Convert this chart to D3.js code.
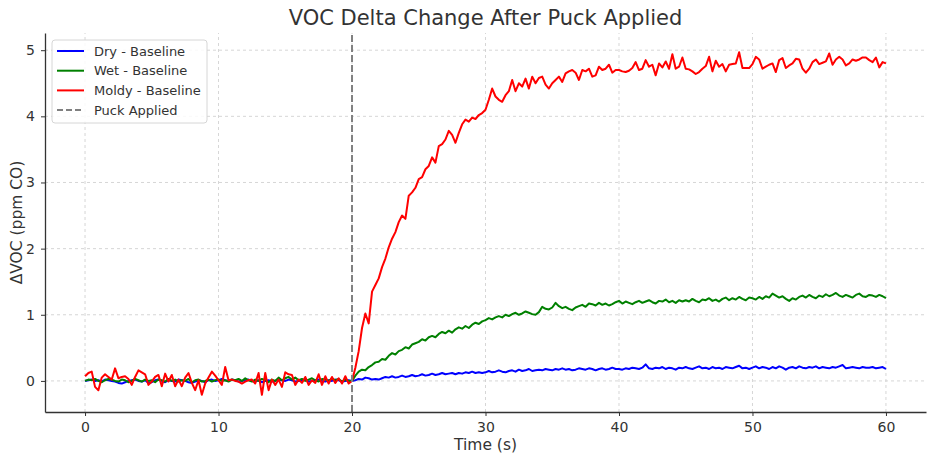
<!DOCTYPE html>
<html>
<head>
<meta charset="utf-8">
<script src="https://cdn.jsdelivr.net/npm/d3@7"></script>
<style>
  body { margin: 0; background: #fff; }
  text { font-family: "DejaVu Sans", sans-serif; }
</style>
</head>
<body>
<div id="chart"></div>
<script>
// sampled every 0.25 s, one row = 5 s
const time = d3.range(0, 241).map(i => i * 0.25);

const dry = [
  0.00, 0.01, 0.02, 0.00, 0.01, -0.01, 0.02, 0.01, 0.00, -0.01, -0.03, -0.04, -0.02, 0.00, 0.01, 0.02, 0.00, -0.01, 0.01, -0.03,
  -0.02, 0.01, 0.02, 0.00, -0.02, 0.01, 0.00, -0.01, 0.02, 0.01, 0.00, -0.02, -0.03, -0.01, 0.01, 0.00, -0.02, 0.01, 0.02, 0.00,
  0.01, 0.03, 0.01, 0.00, 0.02, 0.01, -0.01, 0.00, 0.01, 0.02, 0.00, -0.01, 0.01, -0.02, 0.00, 0.01, -0.01, 0.00, 0.02, 0.01,
  0.00, 0.02, 0.01, -0.01, 0.00, 0.01, 0.02, -0.01, 0.00, 0.01, 0.02, 0.00, -0.01, 0.01, 0.00, 0.02, 0.01, -0.01, 0.00, 0.01,
  0.00, 0.01, 0.03, 0.02, 0.05, 0.04, 0.02, 0.03, 0.02, 0.04, 0.06, 0.05, 0.07, 0.05, 0.06, 0.08, 0.06, 0.07, 0.09, 0.07,
  0.08, 0.10, 0.08, 0.09, 0.11, 0.09, 0.10, 0.12, 0.10, 0.11, 0.12, 0.10, 0.12, 0.11, 0.13, 0.12, 0.14, 0.12, 0.13, 0.12,
  0.13, 0.15, 0.13, 0.14, 0.16, 0.14, 0.13, 0.15, 0.16, 0.14, 0.17, 0.15, 0.16, 0.18, 0.15, 0.16, 0.17, 0.16, 0.18, 0.17,
  0.16, 0.18, 0.17, 0.19, 0.17, 0.18, 0.16, 0.17, 0.19, 0.18, 0.17, 0.19, 0.18, 0.16, 0.18, 0.19, 0.17, 0.18, 0.20, 0.18,
  0.18, 0.17, 0.19, 0.18, 0.20, 0.19, 0.18, 0.20, 0.25, 0.19, 0.18, 0.20, 0.19, 0.21, 0.18, 0.20, 0.19, 0.17, 0.20, 0.19,
  0.21, 0.19, 0.18, 0.20, 0.22, 0.19, 0.20, 0.18, 0.21, 0.19, 0.20, 0.18, 0.21, 0.20, 0.19, 0.21, 0.23, 0.19, 0.20, 0.18,
  0.20, 0.22, 0.19, 0.21, 0.20, 0.18, 0.21, 0.19, 0.22, 0.20, 0.17, 0.20, 0.21, 0.19, 0.22, 0.20, 0.19, 0.21, 0.20, 0.22,
  0.19, 0.21, 0.20, 0.19, 0.21, 0.20, 0.22, 0.24, 0.19, 0.20, 0.21, 0.20, 0.19, 0.21, 0.20, 0.20, 0.21, 0.19, 0.20, 0.21,
  0.18
];

const wet = [
  0.00, 0.02, 0.01, 0.03, 0.00, -0.02, 0.01, 0.03, 0.02, 0.00, -0.01, 0.02, 0.01, -0.02, 0.00, 0.03, 0.01, -0.01, 0.02, 0.00,
  0.01, -0.02, 0.02, 0.01, -0.01, 0.03, 0.00, 0.02, -0.01, 0.01, 0.00, 0.03, -0.02, 0.01, 0.02, -0.01, 0.00, 0.02, -0.01, 0.01,
  0.02, 0.00, 0.01, -0.01, 0.02, 0.01, 0.03, 0.00, 0.04, 0.01, -0.01, 0.02, 0.00, 0.03, 0.01, -0.02, 0.02, 0.00, 0.05, 0.01,
  0.04, 0.06, 0.02, 0.05, 0.01, 0.03, 0.00, 0.02, 0.04, 0.01, -0.01, 0.03, 0.02, 0.00, 0.04, 0.01, 0.03, -0.01, 0.02, 0.00,
  0.00, 0.08, 0.14, 0.17, 0.16, 0.21, 0.24, 0.28, 0.29, 0.33, 0.32, 0.38, 0.42, 0.40, 0.45, 0.47, 0.51, 0.49, 0.55, 0.57,
  0.59, 0.63, 0.61, 0.66, 0.68, 0.66, 0.71, 0.74, 0.72, 0.76, 0.73, 0.78, 0.81, 0.79, 0.83, 0.80, 0.85, 0.88, 0.86, 0.90,
  0.92, 0.95, 0.93, 0.96, 0.98, 0.96, 1.00, 0.98, 1.01, 1.03, 1.00, 1.02, 1.05, 1.03, 1.01, 1.00, 1.04, 1.12, 1.09, 1.08,
  1.11, 1.18, 1.13, 1.10, 1.12, 1.09, 1.07, 1.11, 1.13, 1.15, 1.12, 1.17, 1.16, 1.14, 1.18, 1.15, 1.17, 1.14, 1.16, 1.19,
  1.21, 1.17, 1.20, 1.18, 1.16, 1.19, 1.21, 1.18, 1.20, 1.22, 1.19, 1.17, 1.21, 1.20, 1.23, 1.19, 1.21, 1.18, 1.22, 1.20,
  1.22, 1.20, 1.24, 1.21, 1.19, 1.23, 1.22, 1.25, 1.21, 1.23, 1.20, 1.24, 1.26, 1.22, 1.25, 1.23, 1.27, 1.24, 1.22, 1.26,
  1.25, 1.23, 1.27, 1.24, 1.28, 1.26, 1.32, 1.29, 1.26, 1.28, 1.24, 1.21, 1.25, 1.23, 1.27, 1.29, 1.26, 1.30, 1.27, 1.25,
  1.29, 1.27, 1.31, 1.28, 1.30, 1.33, 1.29, 1.27, 1.30, 1.28, 1.26, 1.30, 1.32, 1.28, 1.27, 1.30, 1.29, 1.27, 1.30, 1.28,
  1.25
];

const moldy = [
  0.07, 0.12, 0.14, -0.09, -0.14, 0.05, 0.10, 0.06, 0.02, 0.19, 0.04, 0.06, 0.07, 0.03, -0.06, 0.06, 0.16, 0.13, 0.10, -0.06,
  -0.01, 0.06, 0.09, -0.08, 0.11, -0.01, 0.09, -0.08, 0.02, -0.08, 0.05, 0.12, -0.03, -0.14, 0.01, -0.21, -0.04, 0.05, 0.14, 0.08,
  0.01, -0.06, 0.21, 0.01, 0.02, 0.00, -0.01, -0.04, -0.01, 0.01, 0.02, -0.04, 0.12, -0.21, 0.12, -0.14, 0.02, -0.06, 0.02, -0.09,
  0.13, 0.10, 0.09, -0.06, 0.02, -0.03, 0.06, -0.06, 0.01, -0.03, 0.10, -0.06, 0.07, -0.04, 0.06, -0.03, 0.04, -0.04, 0.07, -0.04,
  0.00, 0.20, 0.45, 0.80, 1.02, 0.87, 1.35, 1.45, 1.55, 1.72, 1.85, 2.02, 2.15, 2.25, 2.40, 2.50, 2.45, 2.80, 2.85, 2.92,
  3.05, 3.08, 3.20, 3.25, 3.38, 3.30, 3.55, 3.58, 3.65, 3.78, 3.72, 3.60, 3.75, 3.88, 3.95, 3.92, 3.98, 3.96, 4.02, 4.05,
  4.10, 4.25, 4.42, 4.30, 4.25, 4.22, 4.32, 4.38, 4.55, 4.38, 4.50, 4.45, 4.57, 4.42, 4.60, 4.50, 4.58, 4.60, 4.48, 4.42,
  4.50, 4.55, 4.60, 4.52, 4.65, 4.68, 4.70, 4.66, 4.55, 4.70, 4.68, 4.72, 4.60, 4.62, 4.75, 4.70, 4.72, 4.78, 4.66, 4.70,
  4.70, 4.68, 4.67, 4.69, 4.73, 4.82, 4.70, 4.72, 4.85, 4.75, 4.78, 4.62, 4.80, 4.74, 4.83, 4.72, 4.94, 4.72, 4.75, 4.89,
  4.72, 4.71, 4.68, 4.64, 4.67, 4.72, 4.76, 4.90, 4.68, 4.84, 4.75, 4.79, 4.68, 4.78, 4.79, 4.80, 4.97, 4.73, 4.73, 4.73,
  4.79, 4.90, 4.86, 4.72, 4.75, 4.78, 4.80, 4.67, 4.85, 4.88, 4.73, 4.77, 4.80, 4.87, 4.86, 4.72, 4.66, 4.72, 4.82, 4.86,
  4.79, 4.81, 4.83, 4.95, 4.78, 4.86, 4.90, 4.86, 4.77, 4.80, 4.86, 4.84, 4.86, 4.89, 4.89, 4.85, 4.82, 4.89, 4.74, 4.82,
  4.80
];

const seriesNames = ['Dry - Baseline', 'Wet - Baseline', 'Moldy - Baseline'];
const seriesColors = ['blue', 'green', 'red'];
const puckTime = 20;
const xTicks = [0, 10, 20, 30, 40, 50, 60];
const yTicks = [0, 1, 2, 3, 4, 5];

const width = 936, height = 464;
const margin = {top: 33, right: 10, bottom: 52, left: 45};

const svg = d3.select('#chart').append('svg')
  .attr('width', width)
  .attr('height', height);

const x = d3.scaleLinear().domain([-3, 63]).range([margin.left, width - margin.right]);
const y = d3.scaleLinear().domain([-0.47, 5.26]).range([height - margin.bottom, margin.top]);

// grid
const grid = svg.append('g')
  .attr('stroke', '#cccccc')
  .attr('stroke-width', 0.8)
  .attr('stroke-dasharray', '3,3');

grid.selectAll('.vgrid').data(xTicks).join('line')
  .attr('x1', d => x(d)).attr('x2', d => x(d))
  .attr('y1', y.range()[0]).attr('y2', y.range()[1]);

grid.selectAll('.hgrid').data(yTicks).join('line')
  .attr('x1', x.range()[0]).attr('x2', x.range()[1])
  .attr('y1', d => y(d)).attr('y2', d => y(d));

// lines
const allSeries = [dry, wet, moldy];
const line = d3.line()
  .x((d, i) => x(time[i]))
  .y(d => y(d));

svg.append('g').selectAll('path').data(allSeries).join('path')
  .attr('d', d => line(d))
  .attr('fill', 'none')
  .attr('stroke', (d, i) => seriesColors[i])
  .attr('stroke-width', 2)
  .attr('stroke-linejoin', 'round');

// puck applied marker
svg.append('line')
  .attr('x1', x(puckTime)).attr('x2', x(puckTime))
  .attr('y1', y.range()[0]).attr('y2', y.range()[1])
  .attr('stroke', 'gray')
  .attr('stroke-width', 2)
  .attr('stroke-dasharray', '7,3');

// axes
const xAxis = svg.append('g')
  .attr('transform', `translate(0, ${height - margin.bottom})`)
  .call(d3.axisBottom(x).tickValues(xTicks).tickFormat(d3.format('d')).tickSizeInner(4).tickSizeOuter(0).tickPadding(6));

const yAxis = svg.append('g')
  .attr('transform', `translate(${margin.left}, 0)`)
  .call(d3.axisLeft(y).tickValues(yTicks).tickFormat(d3.format('d')).tickSizeInner(4).tickSizeOuter(0).tickPadding(6));

[xAxis, yAxis].forEach(ax => {
  ax.select('.domain').attr('stroke', '#333').attr('stroke-width', 1.3);
  ax.selectAll('.tick line').attr('stroke', '#333');
  ax.selectAll('.tick text')
    .attr('fill', '#333')
    .attr('font-size', 14)
    .attr('font-family', '"DejaVu Sans", sans-serif');
});

// titles
svg.append('text')
  .attr('x', (x.range()[0] + x.range()[1]) / 2)
  .attr('y', 25)
  .attr('text-anchor', 'middle')
  .attr('font-size', 21)
  .attr('fill', '#333')
  .text('VOC Delta Change After Puck Applied');

svg.append('text')
  .attr('x', (x.range()[0] + x.range()[1]) / 2)
  .attr('y', 450)
  .attr('text-anchor', 'middle')
  .attr('font-size', 15.5)
  .attr('fill', '#333')
  .text('Time (s)');

svg.append('text')
  .attr('transform', `translate(22, ${(y.range()[0] + y.range()[1]) / 2}) rotate(-90)`)
  .attr('text-anchor', 'middle')
  .attr('font-size', 15.5)
  .attr('fill', '#333')
  .text('ΔVOC (ppm CO)');

// legend
const legendItems = seriesNames.map((name, i) => ({name, color: seriesColors[i], dash: null}))
  .concat([{name: 'Puck Applied', color: 'gray', dash: '6,3'}]);

const legend = svg.append('g').attr('transform', 'translate(52, 40)');

legend.append('rect')
  .attr('width', 155).attr('height', 83)
  .attr('rx', 3)
  .attr('fill', 'white')
  .attr('fill-opacity', 0.85)
  .attr('stroke', '#d6d6d6');

const rows = legend.selectAll('.row').data(legendItems).join('g')
  .attr('transform', (d, i) => `translate(0, ${11 + i * 19.7})`);

rows.append('line')
  .attr('x1', 5).attr('x2', 32)
  .attr('stroke', d => d.color)
  .attr('stroke-width', 2)
  .attr('stroke-dasharray', d => d.dash);

rows.append('text')
  .attr('x', 42).attr('y', 4.5)
  .attr('font-size', 13)
  .attr('fill', '#333')
  .text(d => d.name);
</script>
</body>
</html>
